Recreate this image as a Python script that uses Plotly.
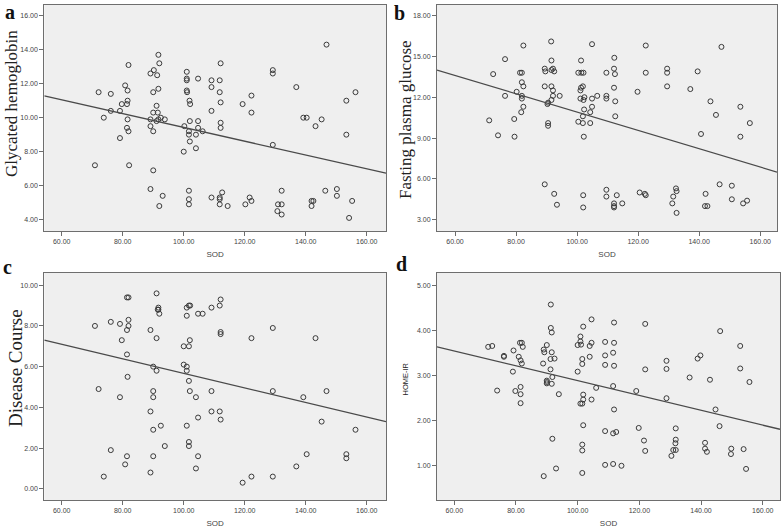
import plotly.graph_objects as go

# ---------------- data ----------------
a_x = [72.1, 70.9, 76.1, 76.1, 73.8, 79.1, 79.1, 79.7, 80.8, 81.6,
       81.6, 81.4, 81.6, 81.4, 81.9, 81.9, 82.1, 89.1, 90.2, 91.3,
       91.7, 92.0, 91.7, 90.0, 91.1, 90.0, 91.5, 89.1, 91.1, 91.7,
       92.5, 93.8, 89.1, 90.0, 90.0, 89.1, 93.1, 92.0, 101.0, 101.0,
       101.0, 104.7, 101.0, 101.1, 101.9, 102.1, 102.0, 104.7, 100.2, 101.7,
       101.7, 104.7, 106.2, 104.0, 102.0, 104.0, 100.0, 101.7, 101.7, 101.7,
       109.1, 109.1, 111.8, 112.1, 111.8, 112.1, 109.1, 112.1, 112.1, 109.1,
       111.8, 111.8, 112.6, 111.8, 114.4, 119.3, 122.2, 122.2, 121.6, 122.2,
       120.2, 129.2, 129.2, 129.2, 130.9, 132.1, 130.7, 132.1, 132.1, 136.9,
       139.2, 140.3, 143.2, 145.2, 146.8, 141.9, 142.5, 141.9, 146.4, 150.2,
       150.2, 153.3, 156.3, 153.3, 155.2, 154.2]
a_y = [11.5, 7.2, 11.4, 10.4, 10.0, 8.8, 10.4, 10.8, 11.9, 11.6,
       11.0, 10.8, 9.9, 9.4, 9.2, 13.1, 7.2, 12.6, 12.8, 12.5,
       13.7, 13.2, 11.7, 11.5, 10.7, 10.3, 10.3, 9.9, 9.8, 9.9,
       10.0, 9.9, 9.5, 9.2, 6.9, 5.8, 5.4, 4.8, 12.7, 12.3,
       12.2, 12.3, 11.6, 11.5, 11.0, 10.8, 9.8, 9.8, 9.5, 9.2,
       9.0, 9.4, 9.2, 9.0, 8.6, 8.2, 8.0, 5.7, 5.2, 4.9,
       12.2, 11.8, 12.2, 13.2, 11.5, 10.9, 10.4, 9.7, 9.4, 5.3,
       5.3, 5.2, 5.6, 4.9, 4.8, 10.8, 11.3, 10.3, 5.3, 5.1,
       4.9, 12.8, 12.6, 8.4, 4.9, 4.9, 4.5, 4.3, 5.7, 11.8,
       10.0, 10.0, 9.5, 9.9, 14.3, 5.1, 5.1, 4.8, 5.7, 5.8,
       5.4, 11.0, 11.5, 9.0, 5.1, 4.1]

b_x = [71.2, 72.5, 74.1, 76.4, 76.4, 79.4, 79.5, 80.2, 81.3, 81.9,
       81.9, 81.9, 81.9, 82.4, 82.4, 82.4, 81.7, 91.5, 91.6, 89.4,
       89.6, 91.6, 92.1, 92.5, 89.4, 91.6, 92.1, 92.1, 94.3, 91.6,
       90.5, 90.3, 90.5, 90.5, 89.4, 92.5, 93.4, 101.3, 100.4, 101.4,
       102.1, 101.3, 101.9, 101.1, 101.1, 102.4, 102.1, 102.3, 101.9, 100.4,
       101.9, 104.3, 104.3, 104.9, 104.9, 106.6, 104.9, 102.2, 102.0, 102.0,
       109.6, 109.6, 109.6, 112.2, 112.1, 112.4, 112.1, 112.5, 112.5, 109.6,
       109.6, 113.0, 112.1, 112.1, 112.1, 114.8, 119.8, 122.5, 122.5, 120.5,
       122.2, 122.5, 129.5, 129.5, 129.5, 132.4, 132.6, 131.5, 131.2, 132.6,
       137.1, 139.5, 140.6, 143.7, 145.5, 147.3, 146.7, 142.1, 141.9, 142.7,
       150.7, 150.7, 153.5, 153.5, 156.6, 154.4, 155.7]
b_y = [10.3, 13.7, 9.2, 14.8, 12.1, 10.4, 9.1, 12.4, 13.8, 13.8,
       13.1, 12.1, 11.9, 12.8, 15.8, 11.3, 10.9, 16.1, 14.7, 14.1,
       13.9, 14.0, 14.1, 13.9, 12.8, 12.8, 12.5, 12.1, 12.1, 11.8,
       11.6, 11.5, 10.1, 9.9, 5.6, 4.9, 4.1, 14.7, 13.8, 13.8,
       13.8, 12.7, 12.8, 12.5, 11.9, 12.0, 11.8, 11.1, 10.6, 10.2,
       10.1, 10.1, 10.9, 11.3, 11.9, 12.1, 15.9, 9.1, 4.8, 3.9,
       13.8, 12.1, 11.9, 14.9, 14.1, 13.7, 12.7, 11.7, 10.6, 5.2,
       4.7, 4.8, 4.2, 4.0, 3.9, 4.2, 12.4, 15.8, 13.8, 5.0,
       4.9, 4.8, 14.1, 13.8, 12.8, 5.3, 5.1, 4.7, 4.2, 3.5,
       12.6, 13.9, 9.3, 11.7, 10.7, 15.7, 5.6, 4.9, 4.0, 4.0,
       5.5, 4.5, 11.3, 9.1, 10.1, 4.2, 4.4]

c_x = [70.9, 72.1, 73.8, 76.1, 76.1, 79.1, 79.1, 79.7, 81.4, 81.9,
       81.9, 81.9, 81.4, 81.4, 81.6, 81.4, 80.8, 89.1, 89.1, 89.1,
       91.1, 91.7, 91.7, 91.5, 92.0, 91.1, 90.0, 91.1, 90.0, 90.0,
       90.0, 90.0, 92.5, 93.8, 101.0, 101.7, 102.1, 101.0, 104.7, 106.2,
       100.0, 101.7, 102.0, 100.0, 101.0, 101.0, 101.7, 102.0, 104.0, 104.7,
       101.0, 101.7, 101.7, 104.7, 104.0, 109.1, 111.8, 112.1, 112.1, 112.1,
       109.1, 109.1, 111.8, 112.1, 119.3, 122.2, 122.2, 129.2, 129.2, 129.2,
       136.9, 139.2, 140.3, 143.2, 145.2, 146.8, 153.3, 153.3, 156.3]
c_y = [8.0, 4.9, 0.6, 8.2, 1.9, 8.1, 4.5, 7.3, 9.4, 9.4,
       8.3, 8.0, 7.8, 6.6, 5.5, 1.6, 1.2, 7.8, 3.8, 0.8,
       9.6, 8.9, 8.8, 8.8, 8.6, 7.4, 6.0, 5.8, 4.8, 4.5,
       2.9, 1.6, 3.1, 2.1, 8.9, 9.0, 9.0, 8.5, 8.6, 8.6,
       7.0, 7.0, 7.3, 6.1, 6.0, 5.8, 5.3, 4.8, 4.5, 3.5,
       3.1, 2.3, 2.1, 1.6, 1.0, 8.9, 9.0, 9.3, 7.7, 7.6,
       4.8, 3.8, 3.8, 3.4, 0.3, 7.4, 0.6, 7.9, 4.8, 0.6,
       1.1, 4.5, 1.7, 7.4, 3.3, 4.8, 1.7, 1.5, 2.9]

d_x = [71.0, 72.3, 73.9, 76.1, 76.1, 79.0, 79.2, 79.8, 80.9, 81.3,
       81.9, 81.5, 81.9, 82.2, 81.5, 81.5, 81.5, 88.8, 89.0, 89.2,
       90.0, 91.3, 91.3, 91.6, 91.6, 91.2, 92.5, 91.2, 91.8, 90.0,
       90.0, 90.0, 91.6, 93.9, 91.8, 89.0, 93.0, 100.9, 100.9, 101.1,
       100.0, 101.8, 104.5, 103.9, 104.5, 103.9, 101.5, 101.5, 100.0, 106.0,
       101.8, 101.8, 100.9, 101.5, 104.5, 101.8, 101.5, 101.5, 101.5, 108.9,
       108.9, 108.9, 111.8, 111.8, 111.5, 111.8, 111.5, 111.8, 108.9, 111.5,
       112.5, 108.9, 111.5, 114.2, 119.0, 121.9, 121.9, 119.8, 121.5, 121.9,
       128.8, 128.8, 128.8, 131.8, 131.8, 131.7, 131.0, 131.8, 130.4, 136.3,
       138.9, 139.8, 142.9, 144.7, 146.2, 146.0, 141.3, 141.3, 141.9, 149.8,
       149.7, 152.7, 152.7, 155.7, 153.8, 154.6]
d_y = [3.63, 3.65, 2.66, 3.43, 3.41, 3.08, 3.55, 2.65, 3.41, 3.72,
       3.72, 3.33, 3.26, 3.63, 2.74, 2.58, 2.38, 3.26, 3.57, 3.51,
       3.67, 4.57, 4.05, 3.95, 3.51, 3.36, 3.37, 3.13, 2.96, 2.88,
       2.85, 2.82, 2.81, 2.58, 1.59, 0.76, 0.93, 3.86, 3.75, 3.68,
       3.67, 4.08, 4.24, 3.65, 3.72, 3.41, 3.36, 3.25, 3.08, 2.72,
       2.57, 2.46, 2.37, 2.37, 2.46, 1.89, 1.46, 1.33, 0.83, 3.74,
       3.44, 3.23, 4.17, 3.72, 3.50, 3.21, 2.76, 2.24, 1.76, 1.71,
       1.74, 1.01, 1.03, 0.99, 2.65, 4.14, 3.13, 1.83, 1.55, 1.32,
       3.32, 3.14, 2.49, 1.82, 1.57, 1.49, 1.34, 1.34, 1.21, 2.95,
       3.37, 3.44, 2.90, 2.24, 3.98, 1.87, 1.50, 1.37, 1.30, 1.37,
       1.25, 3.65, 3.15, 2.85, 1.36, 0.92]

# fitted regression lines (end points)
fit_a_x = [54.3, 166.3]; fit_a_y = [11.29, 6.73]
fit_b_x = [54.1, 165.5]; fit_b_y = [14.0, 6.5]
fit_c_x = [54.3, 166.3]; fit_c_y = [7.3, 3.3]
fit_d_x = [54.4, 165.6]; fit_d_y = [3.63, 1.8]

x_ticks = [60, 80, 100, 120, 140, 160]
a_ticks = [4, 6, 8, 10, 12, 14, 16]
b_ticks = [3, 6, 9, 12, 15, 18]
c_ticks = [0, 2, 4, 6, 8, 10]
d_ticks = [1, 2, 3, 4, 5]

panel_letters = ["a", "b", "c", "d"]
y_titles = ["Glycated hemoglobin", "Fasting plasma glucose", "Disease Course", "HOME-IR"]
x_title = "SOD"

for xs, ys in [(a_x, a_y), (b_x, b_y), (c_x, c_y), (d_x, d_y)]:
    assert len(xs) == len(ys)

# ---------------- figure ----------------
W, H = 784, 530
def px(x): return x / W
def py(y): return 1 - y / H

panels = [
    dict(x=a_x, y=a_y, fx=fit_a_x, fy=fit_a_y, ticks=a_ticks,
         xr=[54.3, 166.3], yr=[3.33, 16.65], dx=[px(44.3), px(386)], dy=[py(231), py(4.7)]),
    dict(x=b_x, y=b_y, fx=fit_b_x, fy=fit_b_y, ticks=b_ticks,
         xr=[54.1, 165.5], yr=[2.17, 18.8], dx=[px(437), px(777)], dy=[py(231), py(4.7)]),
    dict(x=c_x, y=c_y, fx=fit_c_x, fy=fit_c_y, ticks=c_ticks,
         xr=[54.3, 166.3], yr=[-0.55, 10.6], dx=[px(44.3), px(386)], dy=[py(500), py(273)]),
    dict(x=d_x, y=d_y, fx=fit_d_x, fy=fit_d_y, ticks=d_ticks,
         xr=[54.4, 165.6], yr=[0.23, 5.27], dx=[px(437), px(780)], dy=[py(500), py(273)]),
]

fig = go.Figure()
layout = dict(width=W, height=H, margin=dict(l=0, r=0, t=0, b=0),
              paper_bgcolor="white", plot_bgcolor="#efefef", showlegend=False)

tickfont = dict(family="Liberation Sans, Arial, sans-serif", size=7, color="#444")
frame = "#6e6e6e"

for i, p in enumerate(panels):
    n = "" if i == 0 else str(i + 1)
    xa, ya = "x" + n, "y" + n
    fig.add_trace(go.Scatter(x=p["x"], y=p["y"], mode="markers", xaxis=xa, yaxis=ya,
                             marker=dict(symbol="circle-open", size=5, color="#3a3a3a",
                                         line=dict(width=1, color="#3a3a3a")),
                             hoverinfo="x+y"))
    fig.add_trace(go.Scatter(x=p["fx"], y=p["fy"], mode="lines", xaxis=xa, yaxis=ya,
                             line=dict(color="#4a4a4a", width=1.3), hoverinfo="skip"))
    layout["xaxis" + n] = dict(domain=p["dx"], range=p["xr"], anchor=ya,
                               tickvals=x_ticks, tickformat=".2f", ticks="outside",
                               ticklen=4, tickcolor=frame, tickfont=tickfont,
                               showgrid=False, zeroline=False, showline=True,
                               linecolor=frame, linewidth=1, mirror=True,
                               title=dict(text=x_title, standoff=6,
                                          font=dict(family="Liberation Sans, Arial, sans-serif",
                                                    size=8, color="#444")))
    layout["yaxis" + n] = dict(domain=p["dy"], range=p["yr"], anchor=xa,
                               tickvals=p["ticks"], tickformat=".2f", ticks="outside",
                               ticklen=4, tickcolor=frame, tickfont=tickfont,
                               showgrid=False, zeroline=False, showline=True,
                               linecolor=frame, linewidth=1, mirror=True)

fig.update_layout(**layout)

serif = "Liberation Serif, Times New Roman, serif"
# y-axis titles
ytitle_pos = [(12, 104, 17, serif), (406, 120, 17, serif), (15, 368, 19, serif),
              (404.5, 379, 7.5, "Liberation Sans, Arial, sans-serif")]
for t, (x0, y0, fs, fam) in zip(y_titles, ytitle_pos):
    fig.add_annotation(text=t, x=px(x0), y=py(y0), xref="paper", yref="paper",
                       showarrow=False, textangle=-90, xanchor="center", yanchor="middle",
                       font=dict(family=fam, size=fs, color="#222"))

# panel letters (top of text box placed at given pixel row)
letter_pos = [(10, 0), (399, 1), (7, 255), (401, 252)]
for t, (x0, y0) in zip(panel_letters, letter_pos):
    fig.add_annotation(text="<b>" + t + "</b>", x=px(x0), y=py(y0), xref="paper", yref="paper",
                       showarrow=False, xanchor="center", yanchor="top", borderpad=0,
                       font=dict(family=serif, size=20, color="#111"))

fig.write_html("out.html", config={"displayModeBar": False},
               post_script="document.body.style.margin='0px';document.body.style.overflow='hidden';")
